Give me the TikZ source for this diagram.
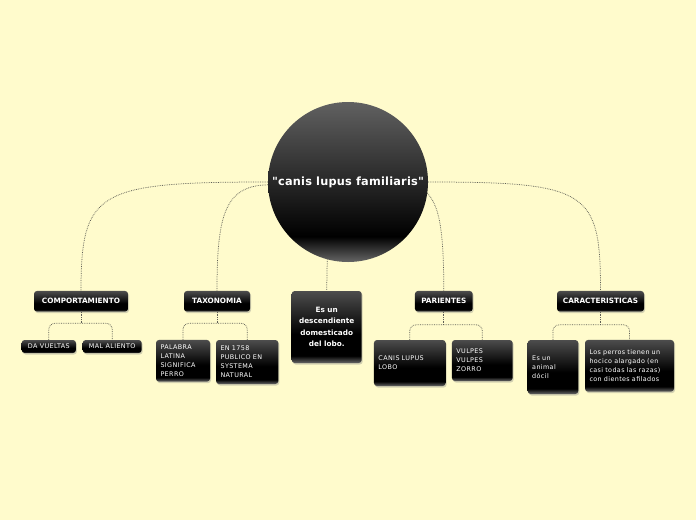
\documentclass[tikz,border=0pt]{standalone}
\usepackage{fontspec}
\setmainfont{DejaVu Sans}
\newfontfamily\leaffont[LetterSpace=6]{DejaVu Sans}
\newfontfamily\titlefont[Ligatures=TeXOff,LetterSpace=2]{DejaVu Sans}
\usetikzlibrary{shadows}
\definecolor{paper}{RGB}{255,251,204}
\definecolor{linkgray}{RGB}{95,95,85}
\pgfdeclareverticalshading{boxshade}{100bp}{color(0bp)=(black!60); color(25bp)=(black!60); color(30bp)=(black); color(45bp)=(black); color(75bp)=(black!70); color(100bp)=(black!70)}
\pgfdeclareverticalshading{ballshade}{100bp}{color(0bp)=(black!60); color(25bp)=(black!60); color(33bp)=(black); color(75bp)=(black!62); color(100bp)=(black!62)}
\tikzset{
  box/.style={shade, shading=boxshade, rounded corners=3pt, text=white, inner sep=0pt,
    drop shadow={shadow xshift=1pt, shadow yshift=-1.5pt, opacity=0.35}},
  topic/.style={box, font=\bfseries\fontsize{7.3}{11.3}\selectfont, minimum height=20.7},
  leaf/.style={box, font=\leaffont\fontsize{6.4}{9}\selectfont, align=left, inner xsep=4.5pt},
  ball/.style={circle, shade, shading=ballshade, minimum size=160, inner sep=0pt, text=white,
    font=\titlefont\bfseries\fontsize{11.3}{13}\selectfont},
  link/.style={draw=linkgray, densely dotted, line width=0.75pt},
}
\begin{document}
\begin{tikzpicture}[x=1pt,y=-1pt]
\fill[paper] (0,0) rectangle (696,520);
\useasboundingbox (0,0) rectangle (696,520);
\node[ball] (main) at (348,182) {"canis lupus familiaris"};
\node[topic, minimum width=94] (comp) at (81,301.3) {COMPORTAMIENTO};
\node[topic, minimum width=66] (tax) at (217,301.3) {TAXONOMIA};
\node[topic, minimum width=70, minimum height=72, align=center] (desc) at (326.7,327) {Es un\\descendiente\\domesticado\\del lobo.};
\node[topic, minimum width=57.7] (par) at (443.8,301.3) {PARIENTES};
\node[topic, minimum width=87] (car) at (600.5,301.3) {CARACTERISTICAS};
\node[leaf, minimum width=54.3, minimum height=13] (vue) at (48.8,346.5) {DA VUELTAS};
\node[leaf, minimum width=59, minimum height=13] (mal) at (112.2,346.5) {MAL ALIENTO};
\node[leaf, text width=45, minimum height=41.7] (pal) at (183,360.8) {PALABRA\\LATINA\\SIGNIFICA\\PERRO};
\node[leaf, text width=53.3, minimum height=44] (nat) at (247.2,362) {EN 1758\\PUBLICO EN\\SYSTEMA\\NATURAL};
\node[leaf, text width=62.7, minimum height=46] (canis) at (409.8,363) {CANIS LUPUS\\LOBO};
\node[leaf, text width=51.7, minimum height=41] (vulpes) at (482.3,360.5) {VULPES\\VULPES\\ZORRO};
\node[leaf, text width=41.6, minimum height=54] (animal) at (553,367) {Es un\\animal\\dócil};
\node[leaf, text width=80, minimum height=51.7] (perros) at (629.5,365.8) {Los perros tienen un\\hocico alargado (en\\casi todas las razas)\\con dientes afilados};
\draw[link] (main.west) .. controls +(-170,0) and +(0,-100) .. (comp.north);
\draw[link] (main.182) .. controls +(-43,1) and +(0,-76) .. (tax.north);
\draw[link] (main.-105) -- (desc.north);
\draw[link] (main.-8) .. controls +(10,12) and +(0,-70) .. (par.north);
\draw[link] (main.east) .. controls +(160,0) and +(0,-100) .. (car.north);
\draw[link] (comp.south) -- ++(0,11.5) coordinate (compj);
\draw[link, rounded corners=6pt] (vue.north) |- (compj) -| (mal.north);
\draw[link] (tax.south) -- ++(0,11.5) coordinate (taxj);
\draw[link, rounded corners=6pt] (pal.north) |- (taxj) -| (nat.north);
\draw[link] (par.south) -- ++(0,13) coordinate (parj);
\draw[link, rounded corners=6pt] (canis.north) |- (parj) -| (vulpes.north);
\draw[link] (car.south) -- ++(0,13) coordinate (carj);
\draw[link, rounded corners=6pt] (animal.north) |- (carj) -| (perros.north);
\end{tikzpicture}
\end{document}
